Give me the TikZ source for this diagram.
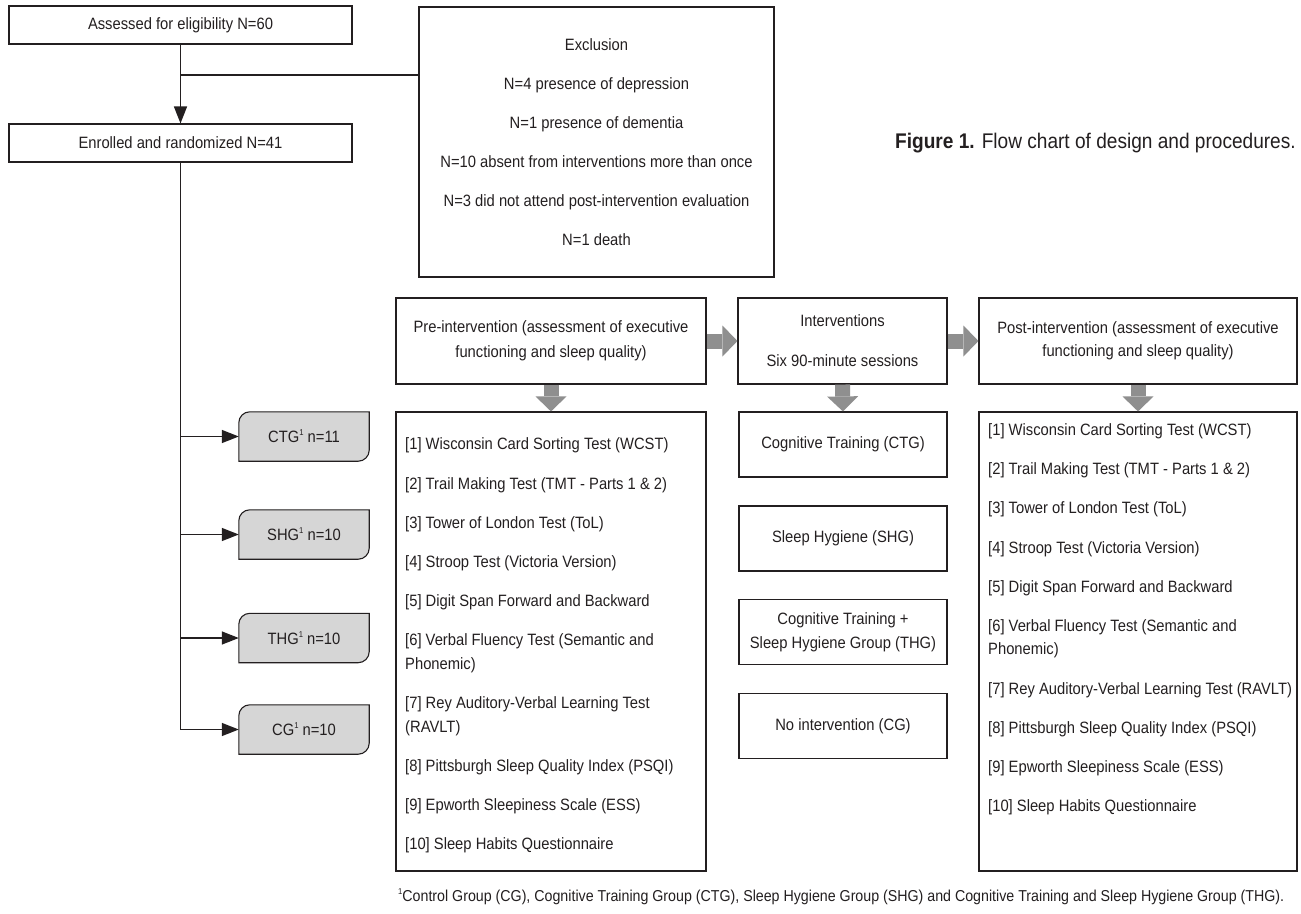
\documentclass[tikz,border=0pt]{standalone}
\usepackage{fontspec}
\setmainfont{Liberation Sans}[FakeStretch=0.9]
\usetikzlibrary{arrows.meta,backgrounds}
\definecolor{ink}{HTML}{231F20}
\definecolor{grpfill}{HTML}{D6D6D6}
\definecolor{garrow}{HTML}{8F8F8F}
\newcommand\supone{\raisebox{0.42em}{\fontsize{8.5}{8.5}\selectfont 1}}
\begin{document}
\begin{tikzpicture}[x=1pt,y=-1pt,
  every node/.style={text=ink},
  box/.style={draw=ink, line width=1.1pt, inner sep=0pt, align=center, font=\fontsize{16.4}{24}\selectfont},
  txt/.style={inner sep=0pt, anchor=base west, font=\fontsize{16.4}{24}\selectfont},
  grp/.style={inner sep=0pt, minimum width=130pt, minimum height=49pt, font=\fontsize{16.4}{24}\selectfont},
  grpline/.style={draw=ink, line width=1.1pt, fill=grpfill},
  conn/.style={draw=ink, line width=1.4pt},
  arr/.style={conn, -{Triangle[length=17pt,width=13pt]}},
  grey/.style={draw=garrow, line width=15pt, -{Triangle[length=15pt,width=31pt,line width=0pt]}},
]
\useasboundingbox (0,0) rectangle (1301,913);

% left column
\node[box, minimum width=343pt, minimum height=38pt] (assess) at (180.5,25) {Assessed for eligibility N=60};
\node[box, minimum width=343pt, minimum height=38pt] (enrol) at (180.5,143) {Enrolled and randomized N=41};
\node[box, minimum width=355pt, minimum height=270pt, font=\fontsize{16.4}{39}\selectfont] (excl) at (596.5,142)
  {Exclusion\\N=4 presence of depression\\N=1 presence of dementia\\N=10 absent from interventions more than once\\N=3 did not attend post-intervention evaluation\\N=1 death};
\coordinate (j1) at (180.5,75);
\draw[arr] (assess.south) -- (enrol.north);
\draw[conn] (j1) -- (excl.west |- j1);

\node[grp] (gctg) at (304,436.5) {CTG\supone\ n=11};
\node[grp] (gshg) at (304,534.5) {SHG\supone\ n=10};
\node[grp] (gthg) at (304,638) {THG\supone\ n=10};
\node[grp] (gcg) at (304,729.5) {CG\supone\ n=10};
\begin{scope}[on background layer]
\fill[white] (0,0) rectangle (1301,913);
\foreach \n in {gctg,gshg,gthg,gcg}{
  \path[grpline] (\n.south west) -- ([yshift=-11pt]\n.north west)
    arc[start angle=180, end angle=90, radius=11pt] -- (\n.north east)
    -- ([yshift=11pt]\n.south east) arc[start angle=0, end angle=-90, radius=11pt] -- cycle;
}
\end{scope}
\draw[arr] (enrol.south) |- (gcg.west);
\draw[arr] (enrol.south |- gctg.west) -- (gctg.west);
\draw[arr] (enrol.south |- gshg.west) -- (gshg.west);
\draw[arr] (enrol.south |- gthg.west) -- (gthg.west);

% top row of stages
\node[box, minimum width=310pt, minimum height=86pt, font=\fontsize{16.4}{25}\selectfont] (pre) at (551,341)
  {Pre-intervention (assessment of executive\\functioning and sleep quality)};
\node[box, minimum width=209pt, minimum height=86pt, font=\fontsize{16.4}{40}\selectfont] (int) at (842.5,341)
  {Interventions\\Six 90-minute sessions};
\node[box, minimum width=318pt, minimum height=86pt, font=\fontsize{16.4}{23.5}\selectfont] (post) at (1138,341)
  {Post-intervention (assessment of executive\\functioning and sleep quality)};

% lists
\node[box, minimum width=310pt, minimum height=459pt] (prelist) at (551,641.5) {};
\node[box, minimum width=318pt, minimum height=459pt] (postlist) at (1138,641.5) {};
\foreach \i/\y/\t in {
  1/449/{[1] Wisconsin Card Sorting Test (WCST)},
  2/489/{[2] Trail Making Test (TMT - Parts 1 \& 2)},
  3/528/{[3] Tower of London Test (ToL)},
  4/567/{[4] Stroop Test (Victoria Version)},
  5/606/{[5] Digit Span Forward and Backward},
  6/645/{[6] Verbal Fluency Test (Semantic and},
  7/669/{Phonemic)},
  8/708/{[7] Rey Auditory-Verbal Learning Test},
  9/732/{(RAVLT)},
  10/771/{[8] Pittsburgh Sleep Quality Index (PSQI)},
  11/810/{[9] Epworth Sleepiness Scale (ESS)},
  12/849/{[10] Sleep Habits Questionnaire}}{
  \node[txt] (pl\i) at (405,\y) {\t};
}
\foreach \i/\y/\t in {
  1/435/{[1] Wisconsin Card Sorting Test (WCST)},
  2/474/{[2] Trail Making Test (TMT - Parts 1 \& 2)},
  3/513/{[3] Tower of London Test (ToL)},
  4/553/{[4] Stroop Test (Victoria Version)},
  5/592/{[5] Digit Span Forward and Backward},
  6/631/{[6] Verbal Fluency Test (Semantic and},
  7/654/{Phonemic)},
  8/694/{[7] Rey Auditory-Verbal Learning Test (RAVLT)},
  9/733/{[8] Pittsburgh Sleep Quality Index (PSQI)},
  10/772/{[9] Epworth Sleepiness Scale (ESS)},
  11/811/{[10] Sleep Habits Questionnaire}}{
  \node[txt] (ql\i) at (988,\y) {\t};
}

% intervention boxes
\node[box, minimum width=208pt, minimum height=65pt] (ictg) at (843,444.5) {Cognitive Training (CTG)};
\node[box, minimum width=208pt, minimum height=65pt] (ishg) at (843,538.5) {Sleep Hygiene (SHG)};
\node[box, minimum width=208pt, minimum height=65pt] (ithg) at (843,632) {Cognitive Training +\\Sleep Hygiene Group (THG)};
\node[box, minimum width=208pt, minimum height=65pt] (icg) at (843,726) {No intervention (CG)};

% grey arrows
\draw[grey] (pre.east) -- (int.west);
\draw[grey] (int.east) -- (post.west);
\draw[grey] (pre.south) -- (prelist.north);
\draw[grey] (int.south) -- (ictg.north);
\draw[grey] (post.south) -- (postlist.north);

% caption and footnote
\node[inner sep=0pt, anchor=base west, font=\fontsize{21.2}{26}\selectfont] (cap) at (895,148)
  {\textbf{Figure 1.} Flow chart of design and procedures.};
\node[inner sep=0pt, anchor=base west, font=\fontsize{15.8}{20}\selectfont] (foot) at (398,901)
  {\supone Control Group (CG), Cognitive Training Group (CTG), Sleep Hygiene Group (SHG) and Cognitive Training and Sleep Hygiene Group (THG).};
\end{tikzpicture}
\end{document}
